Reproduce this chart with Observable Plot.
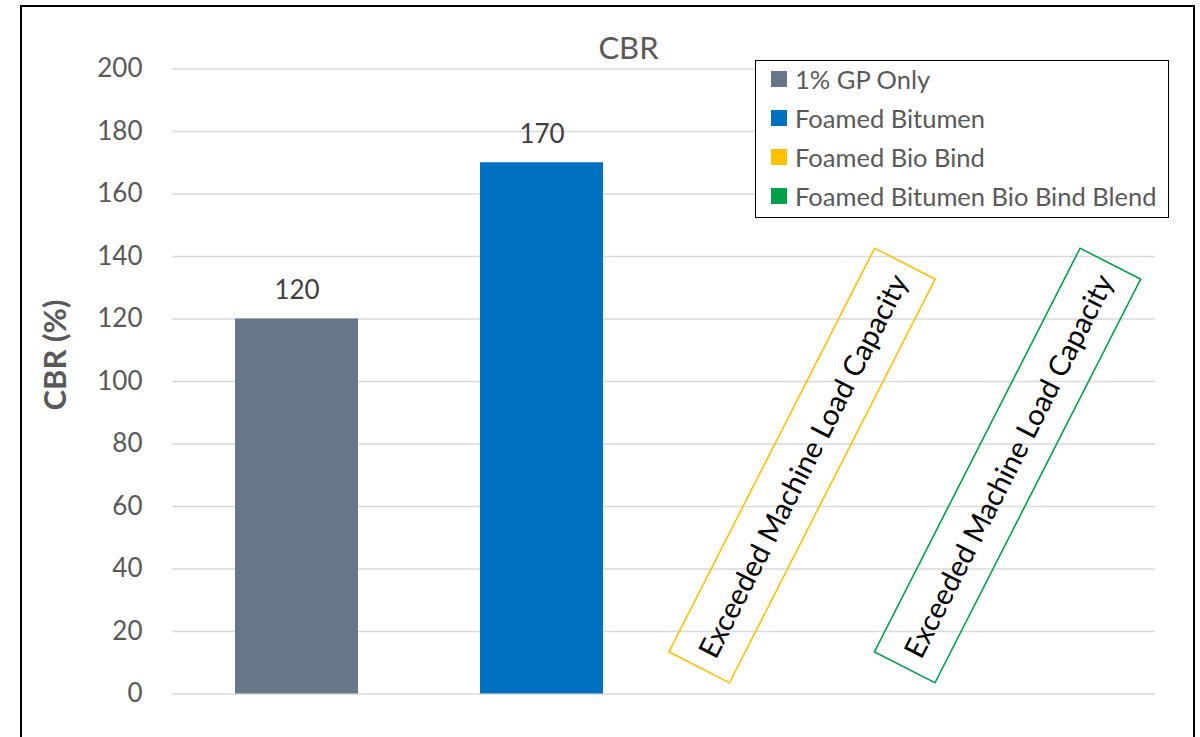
<!DOCTYPE html>
<html>
<head>
<meta charset="utf-8">
<script src="https://cdn.jsdelivr.net/npm/d3@7"></script>
<script src="https://cdn.jsdelivr.net/npm/@observablehq/plot@0.6"></script>
<style>
  html, body { margin: 0; padding: 0; background: #fff; }
  #wrap { position: relative; width: 1200px; height: 737px; overflow: hidden; font-family: Lato, "Open Sans", sans-serif; background: #fff; }
  #frame { position: absolute; left: 20px; top: 5px; width: 1171px; height: 800px; border: 2px solid #000; pointer-events: none; }
  #chart { position: absolute; left: 0; top: 0; }
  #title { position: absolute; left: 628.5px; top: 31.5px; transform: translateX(-50%); font-size: 31px; line-height: 1; color: #595959; white-space: nowrap; }
  #ylabel { position: absolute; left: 54px; top: 355px; transform: translate(-50%, -50%) rotate(-90deg); font-size: 31px; font-weight: bold; line-height: 1; color: #595959; white-space: nowrap; }
  #legend { position: absolute; left: 755px; top: 60px; width: 414px; height: 158px; box-sizing: border-box; border: 1.5px solid #000; background: #fff; }
  .lrow { position: absolute; left: 15px; height: 39px; display: flex; align-items: center; white-space: nowrap; font-size: 25.5px; color: #595959; }
  .sw { width: 16px; height: 16px; margin-right: 8px; flex: none; }
</style>
</head>
<body>
<div id="wrap">
  <div id="chart"></div>
  <div id="title"></div>
  <div id="ylabel"></div>
  <div id="legend"></div>
  <div id="frame"></div>
</div>
<script>
// ---- data ----
const categories = ["1% GP Only", "Foamed Bitumen", "Foamed Bio Bind", "Foamed Bitumen Bio Bind Blend"];
const cbrValues = [120, 170, null, null];
const seriesColors = ["#67778a", "#0070c0", "#ffc000", "#00a04b"];
const yTicks = [0, 20, 40, 60, 80, 100, 120, 140, 160, 180, 200];
const noteCategories = ["Foamed Bio Bind", "Foamed Bitumen Bio Bind Blend"];
const noteText = "Exceeded Machine Load Capacity";
const titleText = "CBR";
const yLabelText = "CBR (%)";

// ---- tables ----
const bars = categories.map((c, i) => ({category: c, value: cbrValues[i]})).filter(d => d.value != null);
const notes = noteCategories.map(c => ({category: c, text: noteText}));

const plot = Plot.plot({
  width: 1200,
  height: 737,
  marginLeft: 172,
  marginRight: 45,
  marginTop: 68.5,
  marginBottom: 43.5,
  style: {fontFamily: "Lato, 'Open Sans', sans-serif", background: "transparent", overflow: "visible"},
  x: {domain: categories, paddingInner: 0.5, paddingOuter: 0.25, axis: null},
  y: {domain: [0, 200]},
  color: {domain: categories, range: seriesColors},
  marks: [
    Plot.gridY(yTicks, {stroke: "#d9d9d9", strokeOpacity: 1, strokeWidth: 1.3}),
    Plot.axisY(yTicks, {tickSize: 0, tickPadding: 30, fontSize: 26, fill: "#595959", label: null, tickFormat: d => String(d)}),
    Plot.barY(bars, {x: "category", y: "value", fill: "category"}),
    Plot.text(bars, {x: "category", y: "value", text: d => String(d.value), dy: -28, fill: "#404040", fontSize: 26}),
    Plot.text(notes.slice(0, 1), {x: "category", frameAnchor: "middle", text: "text", rotate: -63, dx: 17, dy: 85, fill: "#000", fontSize: 29}),
    Plot.text(notes.slice(1, 2), {x: "category", frameAnchor: "middle", text: "text", rotate: -63, dx: -22.5, dy: 85, fill: "#000", fontSize: 29})
  ]
});
document.getElementById("chart").appendChild(plot);

// boxes around the rotated notes
const colorScale = plot.scale("color");
const noteEls = Array.from(plot.querySelectorAll("text")).filter(t => t.textContent === noteText);
noteEls.forEach((t, i) => {
  const bb = t.getBBox();
  const cx = bb.x + bb.width / 2, cy = bb.y + bb.height / 2;
  const w = 453, h = 68;
  const r = document.createElementNS("http://www.w3.org/2000/svg", "rect");
  r.setAttribute("x", cx - w / 2);
  r.setAttribute("y", cy - h / 2);
  r.setAttribute("width", w);
  r.setAttribute("height", h);
  r.setAttribute("fill", "none");
  r.setAttribute("stroke", colorScale.apply(noteCategories[i]));
  r.setAttribute("stroke-width", 1.6);
  const tr = t.getAttribute("transform");
  if (tr) r.setAttribute("transform", tr);
  t.parentNode.insertBefore(r, t);
});

// title, y label, legend
document.getElementById("title").textContent = titleText;
document.getElementById("ylabel").textContent = yLabelText;
const legend = document.getElementById("legend");
categories.forEach((c, i) => {
  const row = document.createElement("div");
  row.className = "lrow";
  row.style.top = (i * 39 - 2) + "px";
  const sw = document.createElement("span");
  sw.className = "sw";
  sw.style.background = colorScale.apply(c);
  const tx = document.createElement("span");
  tx.textContent = c;
  row.appendChild(sw);
  row.appendChild(tx);
  legend.appendChild(row);
});
</script>
</body>
</html>
